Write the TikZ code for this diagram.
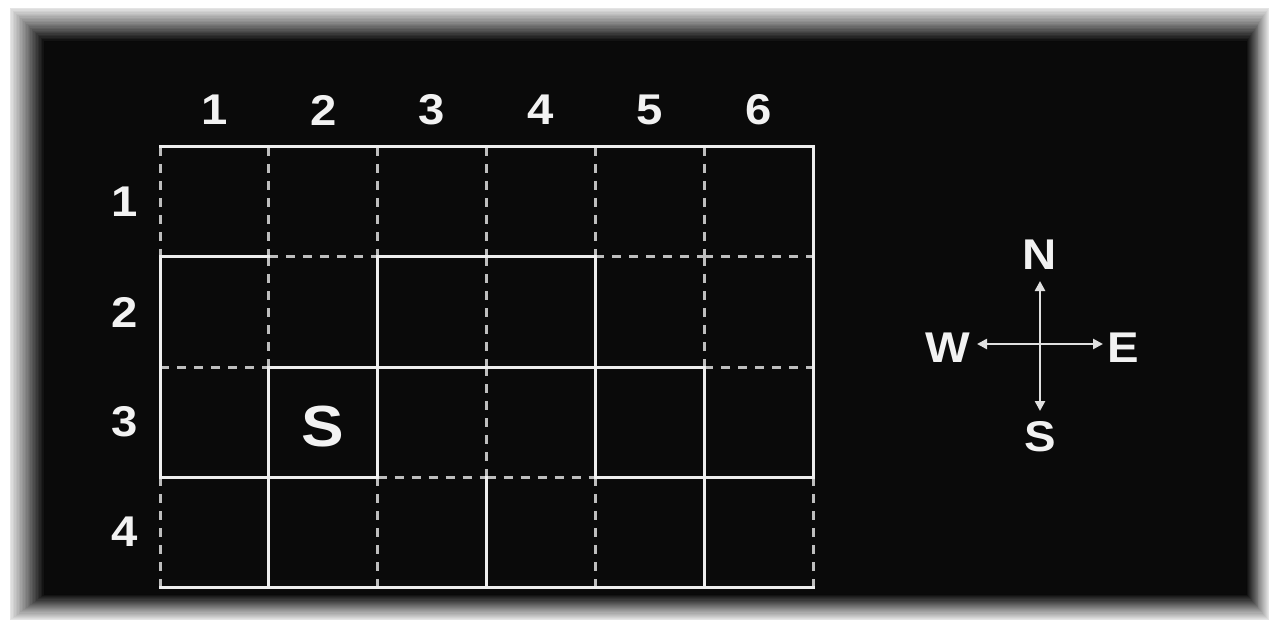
\documentclass[tikz,border=0pt]{standalone}
\usepackage{fontspec}
\newfontfamily\lblfont[FakeStretch=1.1]{Liberation Sans}
\usetikzlibrary{arrows.meta}
\definecolor{edgecol}{RGB}{228,228,228}
\definecolor{innercol}{RGB}{10,10,10}
\definecolor{wallcol}{RGB}{238,238,238}
\definecolor{opencol}{RGB}{190,190,190}
\tikzset{
  wall/.style={draw=wallcol, line width=3pt, line cap=rect},
  open/.style={draw=opencol, line width=3pt, dash pattern=on 9pt off 8pt},
  lbl/.style={text=white!95!black, inner sep=0pt, font=\lblfont\bfseries\fontsize{43}{43}\selectfont},
  biglbl/.style={text=white!95!black, inner sep=0pt, font=\lblfont\bfseries\fontsize{58}{58}\selectfont},
  compass/.style={draw=white!88!black, line width=2.6pt, -{Triangle[length=10pt,width=10pt]}}
}
\begin{document}
\begin{tikzpicture}[x=1pt,y=-1pt]
\useasboundingbox (0,0) rectangle (1279,628);
\fill[white] (0,0) rectangle (1279,628);
% bevelled frame
\foreach \k in {0,...,24}{
  \pgfmathsetmacro{\t}{\k/24}
  \pgfmathsetmacro{\p}{100*\t}
  \fill[black!\p!edgecol] ({10+35*\t},{8+34*\t}) rectangle ({1269-23*\t},{620-26*\t});
}
\fill[innercol] (45,42) rectangle (1246,594);
% grid: dashed (open) segments
\foreach \j/\i in {1/1,1/4,1/5,2/0,2/5,3/2,3/3}
  \draw[open] ({160+108.833*\i},{147+110*\j}) -- ({160+108.833*(\i+1)},{147+110*\j});
\foreach \i/\j in {0/0,0/3,1/0,1/1,2/0,2/3,3/0,3/1,3/2,4/0,4/3,5/0,5/1,6/3}
  \draw[open] ({160+108.833*\i},{147+110*\j}) -- ({160+108.833*\i},{147+110*(\j+1)});
% grid: solid (wall) segments
\draw[wall] (160,147) -- (813,147);
\draw[wall] (160,587) -- (813,587);
\foreach \j/\i in {1/0,1/2,1/3,2/1,2/2,2/3,2/4,3/0,3/1,3/4,3/5}
  \draw[wall] ({160+108.833*\i},{147+110*\j}) -- ({160+108.833*(\i+1)},{147+110*\j});
\foreach \i/\j in {0/1,0/2,1/2,1/3,2/1,2/2,3/3,4/1,4/2,5/2,5/3,6/0,6/1,6/2}
  \draw[wall] ({160+108.833*\i},{147+110*\j}) -- ({160+108.833*\i},{147+110*(\j+1)});
% column labels
\foreach \c in {1,...,6}
  \node[lbl] (col\c) at ({160+108.833*(\c-0.5)},110) {\c};
% row labels
\foreach \r in {1,...,4}
  \node[lbl] (row\r) at (125,{147+110*(\r-0.5)}) {\r};
% start cell
\node[biglbl] (start) at (323,427) {S};
% compass
\coordinate (cc) at (1040,344);
\coordinate (cn) at (1040,281);
\coordinate (cs) at (1040,411);
\coordinate (cw) at (977,344);
\coordinate (ce) at (1103,344);
\draw[compass] (cc) -- (cn);
\draw[compass] (cc) -- (cs);
\draw[compass] (cc) -- (cw);
\draw[compass] (cc) -- (ce);
\node[lbl] (north) at (1040,255) {N};
\node[lbl] (south) at (1040,437) {S};
\node[lbl] (west) at (948,348) {W};
\node[lbl] (east) at (1123,348) {E};
\end{tikzpicture}
\end{document}
